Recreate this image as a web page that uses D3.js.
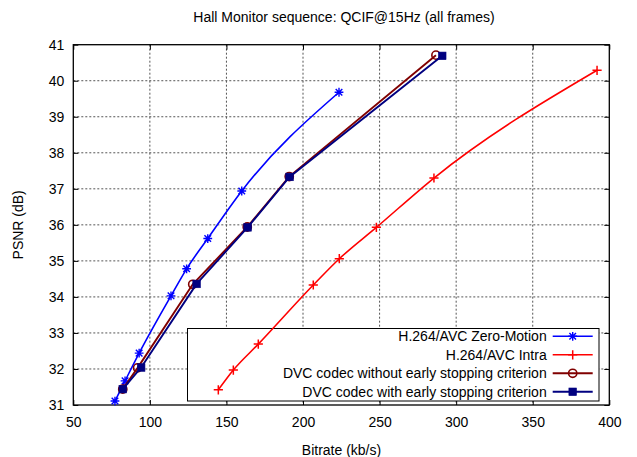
<!DOCTYPE html>
<html>
<head>
<meta charset="utf-8">
<script src="https://cdn.jsdelivr.net/npm/d3@7"></script>
<style>
  html, body { margin: 0; padding: 0; background: #fff; }
  svg { display: block; }
  text { font-family: "Liberation Sans", Arial, Helvetica, sans-serif; fill: #000; }
</style>
</head>
<body>
<svg id="chart" width="637" height="457"></svg>
<script>
// ---- Data ----
const titleText = "Hall Monitor sequence: QCIF@15Hz (all frames)";
const xLabel = "Bitrate (kb/s)";
const yLabel = "PSNR (dB)";
const xTicks = [50, 100, 150, 200, 250, 300, 350, 400];
const yTicks = [31, 32, 33, 34, 35, 36, 37, 38, 39, 40, 41];

const zeroMotionRate = [77.2, 83.8, 93.0, 113.8, 124.0, 137.8, 160.0, 223.5];
const zeroMotionPsnr = [31.11, 31.67, 32.44, 34.03, 34.78, 35.62, 36.94, 39.68];

const intraRate = [144.7, 154.5, 170.8, 206.7, 223.7, 247.9, 285.5, 392.0];
const intraPsnr = [31.42, 31.97, 32.69, 34.33, 35.06, 35.93, 37.30, 40.29];

const dvcNoStopRate = [82.3, 92.0, 128.0, 163.6, 191.0, 286.8];
const dvcNoStopPsnr = [31.44, 32.03, 34.35, 35.94, 37.34, 40.71];

const dvcStopRate = [82.3, 94.3, 130.5, 163.8, 191.2, 290.9];
const dvcStopPsnr = [31.44, 32.04, 34.36, 35.93, 37.33, 40.69];

const seriesNames = [
  "H.264/AVC Zero-Motion",
  "H.264/AVC Intra",
  "DVC codec without early stopping criterion",
  "DVC codec with early stopping criterion"
];

// ---- Build series ----
const zip = (xs, ys) => xs.map((x, i) => ({ x, y: ys[i] }));
const series = [
  { name: seriesNames[0], pts: zip(zeroMotionRate, zeroMotionPsnr), color: "#0000ff", marker: "star", curve: d3.curveMonotoneX, w: 1.6 },
  { name: seriesNames[1], pts: zip(intraRate, intraPsnr), color: "#ff0000", marker: "plus", curve: d3.curveMonotoneX, w: 1.6 },
  { name: seriesNames[2], pts: zip(dvcNoStopRate, dvcNoStopPsnr), color: "#800000", marker: "circle", curve: d3.curveLinear, w: 1.9 },
  { name: seriesNames[3], pts: zip(dvcStopRate, dvcStopPsnr), color: "#000080", marker: "square", curve: d3.curveLinear, w: 1.9 }
];

// ---- Layout ----
const svg = d3.select("#chart");
const L = 73.3, R = 609.3, T = 44.7, B = 405;
const x = d3.scaleLinear().domain([50, 400]).range([L, R]);
const y = d3.scaleLinear().domain([31, 41]).range([B, T]);
const FONT = 14;

// grid
const grid = svg.append("g");
xTicks.slice(1, -1).forEach(t => {
  grid.append("line").attr("x1", x(t)).attr("x2", x(t)).attr("y1", T).attr("y2", B)
    .attr("stroke", "#555").attr("stroke-width", 1).attr("stroke-dasharray", "2,2");
});
yTicks.slice(1, -1).forEach(t => {
  grid.append("line").attr("x1", L).attr("x2", R).attr("y1", y(t)).attr("y2", y(t))
    .attr("stroke", "#555").attr("stroke-width", 1).attr("stroke-dasharray", "2,2");
});

// axes (ticks inward on all sides)
const tickLen = 5;
const axB = svg.append("g").attr("transform", `translate(0,${B})`)
  .call(d3.axisBottom(x).tickValues(xTicks).tickSizeInner(-tickLen).tickSizeOuter(0).tickPadding(12));
const axT = svg.append("g").attr("transform", `translate(0,${T})`)
  .call(d3.axisTop(x).tickValues(xTicks).tickSizeInner(-tickLen).tickSizeOuter(0).tickFormat(""));
const axL = svg.append("g").attr("transform", `translate(${L},0)`)
  .call(d3.axisLeft(y).tickValues(yTicks).tickSizeInner(-tickLen).tickSizeOuter(0).tickPadding(9));
const axR = svg.append("g").attr("transform", `translate(${R},0)`)
  .call(d3.axisRight(y).tickValues(yTicks).tickSizeInner(-tickLen).tickSizeOuter(0).tickFormat(""));
[axB, axT, axL, axR].forEach(a => {
  a.select(".domain").remove();
  a.selectAll("line").attr("stroke", "#000").attr("stroke-width", 1);
  a.selectAll("text").attr("font-family", "Liberation Sans, Arial, sans-serif").attr("font-size", FONT).attr("fill", "#000");
});

// frame
svg.append("rect").attr("x", L).attr("y", T).attr("width", R - L).attr("height", B - T)
  .attr("fill", "none").attr("stroke", "#000").attr("stroke-width", 1.3);

// legend box (below data)
const lgX = 187.5, lgY = 328.5, lgW = 411.5, lgH = 72.5;
svg.append("rect").attr("x", lgX).attr("y", lgY).attr("width", lgW).attr("height", lgH)
  .attr("fill", "#fff").attr("stroke", "#000").attr("stroke-width", 1);

// markers
function drawMarker(g, type, cx, cy, color) {
  if (type === "star") {
    const s = 4.4;
    const p = `M${cx - s},${cy}L${cx + s},${cy}M${cx},${cy - s}L${cx},${cy + s}` +
      `M${cx - s * 0.75},${cy - s * 0.75}L${cx + s * 0.75},${cy + s * 0.75}` +
      `M${cx - s * 0.75},${cy + s * 0.75}L${cx + s * 0.75},${cy - s * 0.75}`;
    g.append("path").attr("d", p).attr("stroke", color).attr("stroke-width", 1.4).attr("fill", "none");
  } else if (type === "plus") {
    const s = 4.6;
    g.append("path").attr("d", `M${cx - s},${cy}L${cx + s},${cy}M${cx},${cy - s}L${cx},${cy + s}`)
      .attr("stroke", color).attr("stroke-width", 1.5).attr("fill", "none");
  } else if (type === "circle") {
    g.append("circle").attr("cx", cx).attr("cy", cy).attr("r", 4.1)
      .attr("fill", "none").attr("stroke", color).attr("stroke-width", 1.6);
  } else if (type === "square") {
    const s = 3.8;
    g.append("rect").attr("x", cx - s).attr("y", cy - s).attr("width", 2 * s).attr("height", 2 * s)
      .attr("fill", color).attr("stroke", color).attr("stroke-width", 0.6);
  }
}

// data
const dataG = svg.append("g");
series.forEach(s => {
  const line = d3.line().x(d => x(d.x)).y(d => y(d.y)).curve(s.curve);
  dataG.append("path").datum(s.pts).attr("d", line)
    .attr("fill", "none").attr("stroke", s.color).attr("stroke-width", s.w);
  s.pts.forEach(p => drawMarker(dataG, s.marker, x(p.x), y(p.y), s.color));
});

// legend entries
const rowY = [336.3, 354.8, 373.3, 391.8];
series.forEach((s, i) => {
  svg.append("text").attr("x", 546.7).attr("y", rowY[i]).attr("dy", "0.35em")
    .attr("text-anchor", "end").attr("font-size", FONT).text(s.name);
  svg.append("line").attr("x1", 552.7).attr("x2", 592.7).attr("y1", rowY[i]).attr("y2", rowY[i])
    .attr("stroke", s.color).attr("stroke-width", s.w);
  drawMarker(svg, s.marker, 572.7, rowY[i], s.color);
});

// titles
svg.append("text").attr("x", 344).attr("y", 17).attr("dy", "0.35em")
  .attr("text-anchor", "middle").attr("font-size", FONT).text(titleText);
svg.append("text").attr("x", 341.5).attr("y", 450).attr("dy", "0.35em")
  .attr("text-anchor", "middle").attr("font-size", FONT).text(xLabel);
svg.append("text").attr("transform", `translate(18,${(T + B) / 2}) rotate(-90)`).attr("dy", "0.35em")
  .attr("text-anchor", "middle").attr("font-size", FONT).text(yLabel);
</script>
</body>
</html>
